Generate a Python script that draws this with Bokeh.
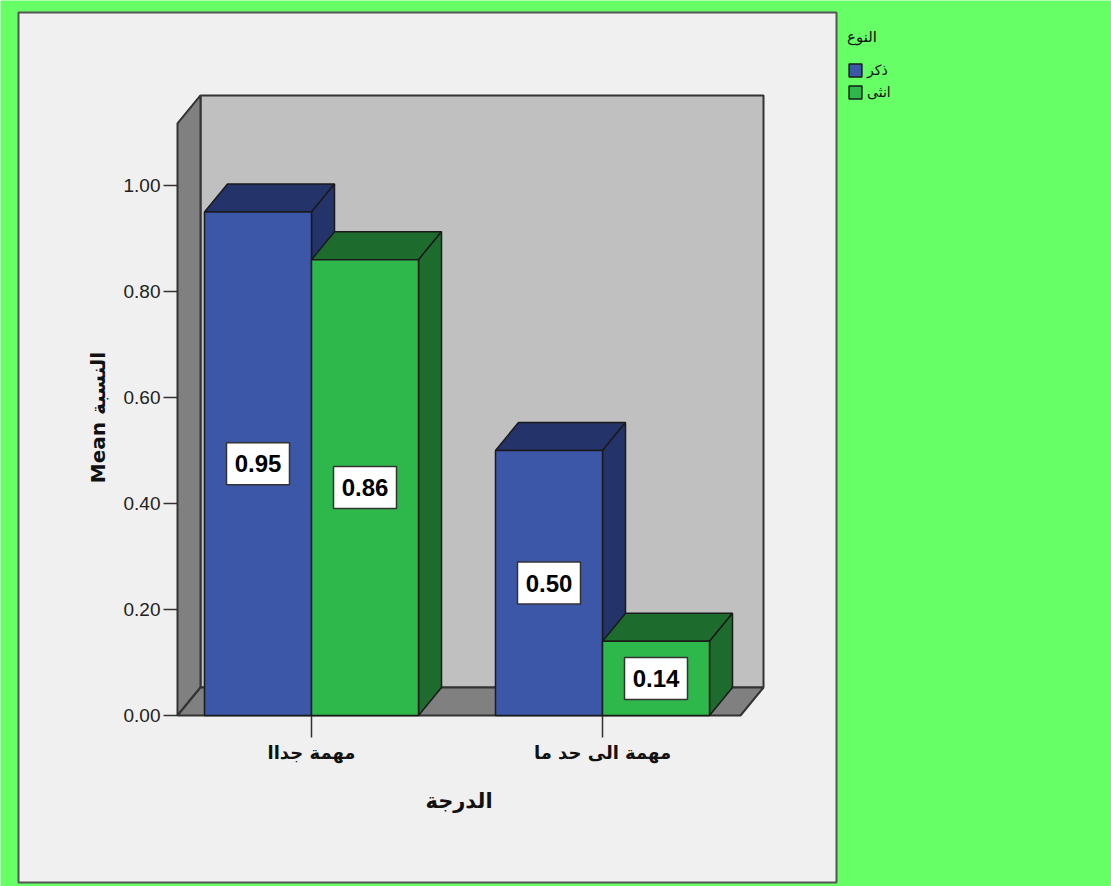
import math
from bokeh.plotting import figure
from bokeh.models import Range1d, Legend, LegendItem, ColumnDataSource
from bokeh.core.properties import value
from bokeh.embed import file_html
from bokeh.resources import INLINE

# ---------------- data ----------------
categories = ["مهمة جداا", "مهمة الى حد ما"]
series_names = ["ذكر", "انثى"]
male_values = [0.95, 0.50]
female_values = [0.86, 0.14]
value_labels_male = ["0.95", "0.50"]
value_labels_female = ["0.86", "0.14"]
y_ticks = [0.0, 0.2, 0.4, 0.6, 0.8, 1.0]
y_tick_labels = ["0.00", "0.20", "0.40", "0.60", "0.80", "1.00"]
x_title = "الدرجة"
y_title = "Mean النسبة"
legend_title = "النوع"

# ---------------- layout / scale ----------------
W, H = 1111, 886
PX_X = 291.0      # pixels per category unit
ORIGIN_X = 20.0   # pixel column of x = 0
PX_Y = 530.0      # pixels per 1.0 of value
ORIGIN_Y = 715.0  # pixel row (from top) of value 0


def sx(px):
    return (px - ORIGIN_X) / PX_X


def sy(py):
    return (ORIGIN_Y - py) / PX_Y


Y_TOP = 1.117          # top of the value axis (wall front)
X_LO = sx(177)         # left end of the axis box
X_HI = sx(740)         # right end of the axis box
DX = 23 / PX_X         # 3D depth offset
DY = 28 / PX_Y
BW = 107 / PX_X        # bar width

BLUE, BLUE_D = "#3D57A8", "#24346A"
GREEN, GREEN_D = "#2EB84B", "#1E6B2E"
EDGE = "#1A1A1A"

p = figure(width=W, height=H, x_range=Range1d(sx(0), sx(W)), y_range=Range1d(sy(H), sy(0)),
           output_backend="svg", toolbar_location=None, min_border=0,
           x_axis_location=None, y_axis_location=None)
p.grid.visible = False
p.outline_line_color = None
p.background_fill_color = "#66FF66"
p.border_fill_color = "#66FF66"

# chart panel
p.quad(left=sx(18), right=sx(836), bottom=sy(882), top=sy(12),
       fill_color="#F0F0F0", line_color="#555555", line_width=2)

# walls
p.quad(left=X_LO + DX, right=X_HI + DX, bottom=DY, top=Y_TOP + DY,
       fill_color="#C0C0C0", line_color="#333333", line_width=2)
p.patch([X_LO, X_LO, X_LO + DX, X_LO + DX], [0, Y_TOP, Y_TOP + DY, DY],
        fill_color="#808080", line_color="#333333", line_width=2)
p.patch([X_LO, X_HI, X_HI + DX, X_LO + DX], [0, 0, DY, DY],
        fill_color="#808080", line_color="#333333", line_width=2)

# y ticks and labels
p.segment(x0=[sx(163)] * len(y_ticks), x1=[X_LO] * len(y_ticks), y0=y_ticks, y1=y_ticks,
          line_color="#333333", line_width=1.5)
p.text(x=[sx(160)] * len(y_ticks), y=y_ticks, text=y_tick_labels, text_align="right",
       text_baseline="middle", text_font=value("Liberation Sans"), text_font_size="19px",
       text_color="#222222")

# category ticks
cat_x = [i + 1 for i in range(len(categories))]
p.segment(x0=cat_x, x1=cat_x, y0=[0] * len(cat_x), y1=[sy(737)] * len(cat_x),
          line_color="#333333", line_width=1.5)


def faces(lefts, vals):
    fx, fy = [], []
    for l, v in zip(lefts, vals):
        r = l + BW
        fx.append([l, r, r + DX, l + DX]); fy.append([v, v, v + DY, v + DY])
        fx.append([r, r, r + DX, r + DX]); fy.append([0, v, v + DY, DY])
    return fx, fy


renderers = []
for vals, offset, fc, dc in [(male_values, -BW, BLUE, BLUE_D), (female_values, 0.0, GREEN, GREEN_D)]:
    lefts = [c + offset for c in cat_x]
    fx, fy = faces(lefts, vals)
    p.patches(fx, fy, fill_color=dc, line_color=EDGE, line_width=1.5)
    src = ColumnDataSource(dict(left=lefts, right=[l + BW for l in lefts], top=vals,
                                bottom=[0] * len(vals)))
    renderers.append(p.quad(left="left", right="right", top="top", bottom="bottom",
                            source=src, fill_color=fc, line_color=EDGE, line_width=1.5))

# value labels
lx = [c - BW / 2 for c in cat_x] + [c + BW / 2 for c in cat_x]
ly = [v / 2 for v in male_values] + [v / 2 for v in female_values]
lt = value_labels_male + value_labels_female
p.rect(x=lx, y=ly, width=63, height=42, width_units="screen", height_units="screen",
       fill_color="white", line_color="#333333", line_width=1.5)
p.text(x=lx, y=ly, text=lt, text_align="center", text_baseline="middle",
       text_font=value("Liberation Sans"), text_font_style="bold", text_font_size="24px",
       text_color="black")

# category labels and titles
p.text(x=cat_x, y=[sy(752)] * len(cat_x), text=categories, text_align="center",
       text_baseline="middle", text_font=value("DejaVu Sans"), text_font_style="bold",
       text_font_size="18px", text_color="#111111")
p.text(x=[(X_LO + X_HI) / 2], y=[sy(800)], text=[x_title], text_align="center",
       text_baseline="middle", text_font=value("DejaVu Sans"), text_font_style="bold",
       text_font_size="21px", text_color="#111111")
p.text(x=[sx(97)], y=[sy(417)], text=[y_title], angle=math.pi / 2, text_align="center",
       text_baseline="middle", text_font=value("DejaVu Sans"), text_font_style="bold",
       text_font_size="20px", text_color="#111111")

# legend
legend = Legend(items=[LegendItem(label=series_names[0], renderers=[renderers[0]]),
                       LegendItem(label=series_names[1], renderers=[renderers[1]])],
                location=(843, 782), title=legend_title,
                title_text_font="DejaVu Sans", title_text_font_size="15px",
                title_text_font_style="normal", title_text_color="#111111", title_standoff=16,
                label_text_font="DejaVu Sans", label_text_font_size="14px",
                label_text_color="#111111",
                glyph_width=16, glyph_height=16, label_height=16, spacing=6,
                label_standoff=4, padding=4, margin=0,
                background_fill_alpha=0, border_line_alpha=0)
p.add_layout(legend)

open("out.html", "w").write(file_html(p, INLINE))
